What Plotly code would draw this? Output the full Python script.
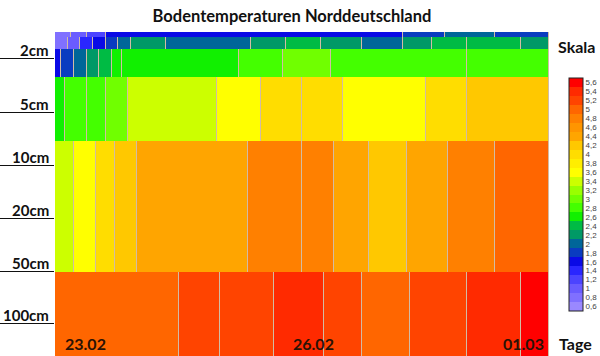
import plotly.graph_objects as go

# ---- data: time axis in hours since 23.02 00:00, temperatures in degC ----
top_edges = [0, 5, 10, 16, 110, 123, 139, 156]
top_vals = [0.9, 1.1, 1.3, 1.7, 1.9, 2.1, 1.9]

surf_edges = [0, 4, 8, 12, 16, 20, 24, 35, 62, 73, 84, 97, 110, 119, 130, 147, 156]
surf_vals = [0.9, 1.1, 1.5, 1.7, 1.9, 2.1, 2.3, 2.1, 2.3, 2.5, 2.3, 2.1, 2.3, 2.5, 2.5, 2.3]

cm2_edges = [0, 2, 6, 10, 14, 18, 21, 58, 72, 87, 130, 156]
cm2_vals = [1.7, 1.9, 2.1, 2.3, 2.5, 2.7, 2.7, 2.9, 3.1, 2.9, 2.9]

cm5_edges = [0, 3, 10, 16, 23, 51, 65, 78, 91, 117, 130, 156]
cm5_vals = [2.7, 2.9, 2.9, 3.1, 3.5, 3.7, 4.1, 4.1, 3.7, 4.1, 4.3]

cm10_50_edges = [0, 6, 13, 19, 26, 61, 78, 88, 99, 111, 124, 139, 156]
cm10_50_vals = [3.5, 3.7, 4.1, 4.3, 4.5, 4.9, 4.9, 4.5, 4.3, 4.5, 4.9, 5.1]

cm100_edges = [0, 39, 52, 69, 85, 97, 112, 130, 147, 156]
cm100_vals = [5.1, 5.3, 5.3, 5.5, 5.3, 5.1, 5.3, 5.5, 5.7]

depth_labels = ["2cm", "5cm", "10cm", "20cm", "50cm", "100cm"]
date_labels = ["23.02", "26.02", "01.03"]
date_hours = [9.5, 81.5, 148]

scale_lows = [round(0.6 + 0.2 * i, 1) for i in range(26)]
scale_colors = [
    "#9a88ff", "#8070ff", "#6a5cff", "#4c44ff", "#2a26ff", "#0a0ae6",
    "#0a3cc0", "#006699", "#009966", "#00bb44", "#11f000", "#44ff00",
    "#70ff00", "#99ff00", "#ccff00", "#ffff00", "#ffee00", "#ffdd00",
    "#ffc800", "#ffa500", "#ff9500", "#ff8000", "#ff6600", "#ff4400",
    "#ff2a00", "#ff0000",
]

# ---- layout parameters (display geometry) ----
layer_bounds = [0, 5, 17, 45, 109, 240, 324]
depth_marks = [26, 80, 133, 186, 239, 291]

zmin, zmax = 0.6, 5.8
n = len(scale_lows)
colorscale = []
for i, c in enumerate(scale_colors):
    colorscale.append([i / n, c])
    colorscale.append([(i + 1) / n, c])

rows = [
    (top_edges, top_vals),
    (surf_edges, surf_vals),
    (cm2_edges, cm2_vals),
    (cm5_edges, cm5_vals),
    (cm10_50_edges, cm10_50_vals),
    (cm100_edges, cm100_vals),
]

FONT = "Lato"
fig = go.Figure()
for k, (edges, vals) in enumerate(rows):
    fig.add_trace(go.Heatmap(
        x=edges,
        y=[layer_bounds[k], layer_bounds[k + 1]],
        z=[vals],
        zmin=zmin, zmax=zmax,
        colorscale=colorscale,
        xgap=1,
        showscale=(k == 0),
        hoverinfo="skip",
        colorbar=dict(
            x=(569 - 55) / 494, xanchor="left", xpad=0,
            y=(356 - 194.5) / 324, yanchor="middle", ypad=0,
            len=233 / 324, lenmode="fraction",
            thickness=14, thicknessmode="pixels",
            outlinewidth=1, outlinecolor="#222",
            tickvals=[lo + 0.1 for lo in scale_lows],
            ticktext=[f"{lo:g}".replace(".", ",") for lo in scale_lows],
            ticks="", ticklabelposition="outside",
            tickfont=dict(family="Arial", size=8, color="#444"),
        ),
    ))

annotations = []
for lab, ym in zip(depth_labels, depth_marks):
    annotations.append(dict(
        text=f"<b>{lab}</b>", xref="paper", yref="y", x=-4 / 494, y=ym,
        xanchor="right", yanchor="bottom", showarrow=False, yshift=-3,
        font=dict(family=FONT, size=15, color="#111"),
    ))
for lab, hx in zip(date_labels, date_hours):
    annotations.append(dict(
        text=f"<b>{lab}</b>", xref="x", yref="paper", x=hx, y=13 / 324,
        xanchor="center", yanchor="middle", showarrow=False,
        font=dict(family=FONT, size=16, color="#2a1205"),
    ))
annotations.append(dict(
    text="<b>Skala</b>", xref="paper", yref="paper", x=(576 - 55) / 494, y=(356 - 47) / 324,
    xanchor="center", yanchor="middle", showarrow=False,
    font=dict(family=FONT, size=16, color="#111"),
))
annotations.append(dict(
    text="<b>Tage</b>", xref="paper", yref="paper", x=(575 - 55) / 494, y=(356 - 343) / 324,
    xanchor="center", yanchor="middle", showarrow=False,
    font=dict(family=FONT, size=16, color="#111"),
))

fig.update_layout(
    width=600, height=356,
    margin=dict(l=55, r=51, t=32, b=0, autoexpand=False),
    paper_bgcolor="white",
    plot_bgcolor="#d2bca4",
    title=dict(
        text="<b>Bodentemperaturen Norddeutschland</b>",
        x=292 / 600, xanchor="center", y=1 - 16 / 356, yanchor="middle",
        font=dict(family=FONT, size=16.5, color="#111"),
    ),
    xaxis=dict(range=[0, 156], visible=False, fixedrange=True),
    yaxis=dict(
        range=[324, 0], showgrid=False, zeroline=False, showticklabels=False,
        tickmode="array", tickvals=depth_marks, ticks="outside", ticklen=55,
        tickcolor="#111", tickwidth=1, showline=False, automargin=False,
    ),
    annotations=annotations,
    showlegend=False,
)

fig.write_html(
    "out.html",
    config={"displayModeBar": False},
    post_script="document.body.style.margin='0';document.body.style.padding='0';",
)
